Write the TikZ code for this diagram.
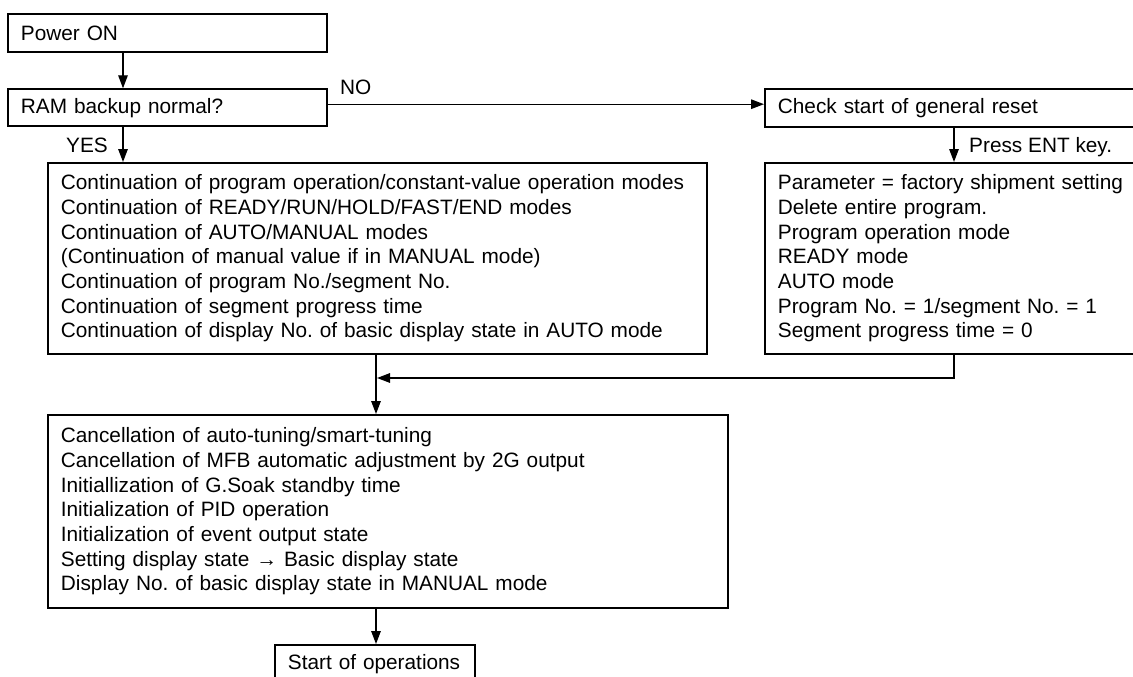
\documentclass[tikz,border=0pt]{standalone}
\usepackage{fontspec}
\setmainfont{Liberation Sans}
\usetikzlibrary{arrows.meta}
\frenchspacing
\tikzset{
  box/.style={draw, line width=1.8pt, anchor=north west, align=left, inner xsep=13pt, inner ysep=0pt,
    font=\fontsize{20.8}{24.7}\selectfont},
  arr/.style={line width=1.4pt, -{Triangle[length=13pt,width=9.5pt]}},
  conn/.style={line width=1.4pt},
  lbl/.style={font=\fontsize{20.8}{24.7}\selectfont, inner sep=0pt}
}
\begin{document}
\frenchspacing
\begin{tikzpicture}[x=1pt,y=-1pt]
\useasboundingbox (0,0) rectangle (1133,677);
\clip (0,0) rectangle (1133,677);
\node[box, minimum width=319pt, minimum height=38.5pt, text width=293pt] (pwr) at (7,13) {Power ON};
\node[box, minimum width=319pt, minimum height=37pt, text width=293pt] (ram) at (7,88.3) {RAM backup normal?};
\node[box, minimum width=420pt, minimum height=38pt, text width=394pt] (chk) at (764,88) {Check start of general reset};
\node[box, minimum width=659pt, minimum height=191pt, text width=633pt] (b1) at (47,162) {Continuation of program operation/constant-value operation modes\\
Continuation of READY/RUN/HOLD/FAST/END modes\\
Continuation of AUTO/MANUAL modes\\
(Continuation of manual value if in MANUAL mode)\\
Continuation of program No./segment No.\\
Continuation of segment progress time\\
Continuation of display No. of basic display state in AUTO mode};
\node[box, minimum width=420pt, minimum height=191pt, text width=394pt] (rb) at (764,162) {Parameter = factory shipment setting\\
Delete entire program.\\
Program operation mode\\
READY mode\\
AUTO mode\\
Program No. = 1/segment No. = 1\\
Segment progress time = 0};
\node[box, minimum width=680pt, minimum height=193pt, text width=654pt] (b2) at (47,414) {Cancellation of auto-tuning/smart-tuning\\
Cancellation of MFB automatic adjustment by 2G output\\
Initiallization of G.Soak standby time\\
Initialization of PID operation\\
Initialization of event output state\\
Setting display state → Basic display state\\
Display No. of basic display state in MANUAL mode};
\node[box, minimum width=200pt, minimum height=38pt, text width=174pt] (st) at (274,644) {Start of operations};
% connectors
\draw[arr] ([xshift=116pt]pwr.south west) -- ([xshift=116pt]ram.north west);
\draw[arr] ([xshift=116pt]ram.south west) -- ([xshift=76pt]b1.north west);
\coordinate (noA) at ([yshift=3.5pt]ram.east);
\draw[arr] (noA) -- (noA -| chk.west);
\draw[arr] ([xshift=190pt]chk.south west) -- ([xshift=190pt]rb.north west);
\draw[arr] ([xshift=329pt]b1.south west) -- ([xshift=329pt]b2.north west);
\coordinate (m) at (377,378);
\draw[arr] ([xshift=190pt]rb.south west) |- (m);
\draw[arr] ([xshift=329pt]b2.south west) -- ([xshift=102pt]st.north west);
% labels
\node[lbl, anchor=base west] (no) at (340,95) {NO};
\node[lbl, anchor=base east] (yes) at (108,152) {YES};
\node[lbl, anchor=base west] (ent) at (969,152) {Press ENT key.};
\end{tikzpicture}
\end{document}
